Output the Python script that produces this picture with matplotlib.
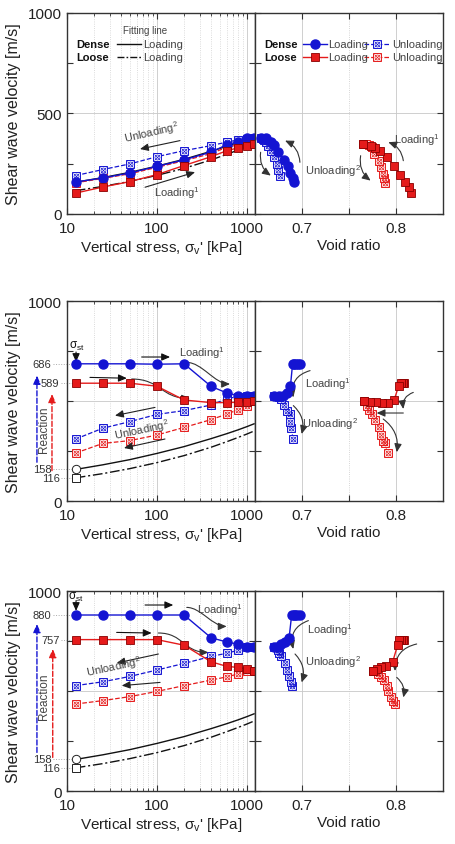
import matplotlib
matplotlib.use('Agg')
import matplotlib.pyplot as plt
from matplotlib.patches import FancyArrowPatch
from matplotlib.path import Path
from matplotlib.ticker import LogLocator, NullFormatter
import matplotlib.transforms as mtransforms

plt.rcParams['font.family'] = ['Liberation Sans', 'DejaVu Sans']
plt.rcParams['mathtext.fontset'] = 'custom'
plt.rcParams['mathtext.rm'] = 'Liberation Sans'
plt.rcParams['mathtext.it'] = 'Liberation Sans:italic'
plt.rcParams['mathtext.bf'] = 'Liberation Sans:bold'
plt.rcParams['mathtext.default'] = 'regular'

BLUE = '#1414d2'
RED = '#e51b1b'
GRAY = '#444444'

# ---------------- data ----------------
stress = [12.5, 25, 50, 100, 200, 400, 600, 800, 1000, 1200]

fit_dense = [158, 181, 207, 238, 272, 312, 337, 356, 372, 386]
fit_loose = [116, 137, 162, 192, 227, 269, 297, 318, 335, 350]

# top panel
A_dense_load_v = [159, 179, 204, 237, 269, 308, 345, 360, 377, 377]
A_dense_load_e = [0.692, 0.690, 0.6877, 0.6853, 0.6806, 0.6747, 0.670, 0.6667, 0.6614, 0.656]
A_dense_unl_v = [191, 221, 249, 285, 315, 340, 358, 368, 373, 377]
A_dense_unl_e = [0.677, 0.675, 0.673, 0.670, 0.667, 0.664, 0.662, 0.660, 0.658, 0.656]
A_loose_load_v = [104, 134, 161, 196, 241, 285, 315, 329, 340, 350]
A_loose_load_e = [0.8158, 0.8134, 0.8095, 0.8046, 0.7976, 0.790, 0.7835, 0.778, 0.773, 0.765]
A_loose_unl_v = [155, 177, 200, 232, 265, 300, 333, 343, 348, 350]
A_loose_unl_e = [0.788, 0.787, 0.786, 0.784, 0.782, 0.777, 0.774, 0.771, 0.768, 0.765]

# middle panel
B_dense_load_v = [686, 686, 686, 684, 686, 573, 540, 527, 527, 527]
B_dense_load_e = [0.698, 0.696, 0.694, 0.692, 0.690, 0.6877, 0.6842, 0.680, 0.6754, 0.670]
B_dense_unl_v = [310, 364, 397, 433, 452, 480, 512, 522, 526, 527]
B_dense_unl_e = [0.6905, 0.6887, 0.6877, 0.687, 0.6842, 0.6814, 0.678, 0.6754, 0.673, 0.670]
B_loose_load_v = [589, 589, 589, 574, 505, 492, 492, 494, 497, 499]
B_loose_load_e = [0.8085, 0.807, 0.805, 0.8028, 0.798, 0.791, 0.785, 0.779, 0.772, 0.766]
B_loose_unl_v = [240, 288, 302, 330, 368, 407, 435, 457, 477, 499]
B_loose_unl_e = [0.791, 0.788, 0.7863, 0.7845, 0.782, 0.778, 0.7747, 0.771, 0.7687, 0.766]

# bottom panel
C_dense_load_v = [880, 880, 880, 880, 880, 766, 745, 734, 722, 721]
C_dense_load_e = [0.6975, 0.695, 0.693, 0.691, 0.689, 0.6863, 0.6824, 0.678, 0.6737, 0.670]
C_dense_unl_v = [527, 546, 573, 605, 638, 673, 689, 704, 718, 721]
C_dense_unl_e = [0.6895, 0.688, 0.6863, 0.6842, 0.6815, 0.678, 0.676, 0.6744, 0.6737, 0.670]
C_loose_load_v = [757, 757, 757, 757, 729, 646, 623, 618, 610, 601]
C_loose_load_e = [0.809, 0.807, 0.805, 0.803, 0.8017, 0.7965, 0.7895, 0.784, 0.780, 0.7755]
C_loose_unl_v = [435, 452, 472, 498, 527, 555, 571, 585, 598, 601]
C_loose_unl_e = [0.799, 0.797, 0.795, 0.792, 0.790, 0.787, 0.784, 0.781, 0.778, 0.7755]

ref_dense_B = [686, 158]
ref_loose_B = [589, 116]
ref_dense_C = [880, 158]
ref_loose_C = [757, 116]

# ---------------- helpers ----------------
def hatched(ax, x, y, color, ls='--', **kw):
    ax.plot(x, y, ls=ls, color=color, lw=0.9, marker='s', ms=6, mfc='white',
            mec=color, mew=0.7, **kw)
    ax.plot(x, y, ls='none', marker='x', ms=4.2, mec=color, mew=0.5, **kw)
    ax.plot(x, y, ls='none', marker='o', ms=3.6, mfc='none', mec=color, mew=0.5, **kw)


def arrow(ax, p0, p1, rad=0.0, color='#222222', ls='-', lw=0.8):
    ax.annotate('', xy=p1, xytext=p0, xycoords='axes fraction',
                textcoords='axes fraction', annotation_clip=False,
                arrowprops=dict(arrowstyle='-|>,head_length=0.5,head_width=0.22',
                                color=color, lw=lw, ls=ls, mutation_scale=10,
                                shrinkA=0, shrinkB=0,
                                connectionstyle='arc3,rad=%g' % rad))


def s_arrow(ax, p0, p1, color='#333333', frac=0.5):
    x0, y0 = p0
    x1, y1 = p1
    xm0 = x0 + (x1 - x0) * frac
    xm1 = x0 + (x1 - x0) * (1 - frac)
    verts = [(x0, y0), (xm0, y0), (xm1, y1), (x1, y1)]
    path = Path(verts, [Path.MOVETO, Path.CURVE4, Path.CURVE4, Path.CURVE4])
    p = FancyArrowPatch(path=path, arrowstyle='-|>,head_length=0.5,head_width=0.22',
                        mutation_scale=10, transform=ax.transAxes, color=color,
                        lw=0.8, clip_on=False)
    ax.add_patch(p)


def txt(ax, x, y, s, size=8, rot=0, color=GRAY, **kw):
    ax.text(x, y, s, transform=ax.transAxes, fontsize=size, rotation=rot,
            color=color, ha=kw.pop('ha', 'center'), va=kw.pop('va', 'center'), **kw)


def style_axis(ax):
    for sp in ax.spines.values():
        sp.set_color('#333333')
        sp.set_linewidth(1.0)
    ax.tick_params(which='both', direction='in', top=True, right=True,
                   labelsize=11, colors='#333333', labelcolor='#222222')
    ax.tick_params(which='major', length=4, width=0.8)
    ax.tick_params(which='minor', length=2, width=0.6)
    ax.tick_params(axis='x', which='major', pad=5)
    ax.tick_params(axis='y', which='major', pad=4)
    ax.set_axisbelow(True)


def setup_left(ax, top):
    ax.set_xscale('log')
    ax.set_xlim(10, 1230)
    ax.set_ylim(0, 1000)
    ax.set_xticks([10, 100, 1000])
    ax.set_xticklabels(['10', '100', '1000'])
    ax.xaxis.set_minor_locator(LogLocator(base=10, subs=range(2, 10)))
    ax.xaxis.set_minor_formatter(NullFormatter())
    ax.set_yticks([0, 250, 500, 750, 1000])
    if top:
        ax.set_yticklabels(['0', '', '500', '', '1000'])
    else:
        ax.set_yticklabels(['0', '', '', '', '1000'])
    ax.grid(which='major', axis='x', color='#c8c8c8', lw=0.6)
    ax.grid(which='minor', axis='x', color='#cfcfcf', lw=0.6, ls=':')
    ax.axhline(500, color='#c8c8c8', lw=0.6, zorder=0)
    style_axis(ax)
    ax.set_ylabel('Shear wave velocity [m/s]', fontsize=11.5, color='#222222')
    ax.yaxis.set_label_coords(-0.245, 0.5)
    ax.set_xlabel("Vertical stress, σ$_v$' [kPa]", fontsize=11, color='#222222')
    ax.xaxis.set_label_coords(0.5, -0.12)


def setup_right(ax):
    ax.set_xlim(0.65, 0.85)
    ax.set_ylim(0, 1000)
    ax.set_xticks([0.7, 0.75, 0.8])
    ax.set_xticklabels(['0.7', '', '0.8'])
    ax.set_yticks([0, 250, 500, 750, 1000])
    ax.set_yticklabels([])
    for xv, ls in [(0.7, '-'), (0.75, ':'), (0.8, '-')]:
        ax.axvline(xv, color='#c8c8c8', lw=0.6, ls=ls, zorder=0)
    ax.axhline(500, color='#c8c8c8', lw=0.6, zorder=0)
    style_axis(ax)
    ax.set_xlabel('Void ratio', fontsize=11, color='#222222')
    ax.xaxis.set_label_coords(0.5, -0.12)


def draw_series(axL, axR, dl, de, du, due, ll, le, lu, lue):
    axL.plot(stress, fit_dense, color='#111111', lw=1.0, zorder=2)
    axL.plot(stress, fit_loose, color='#111111', lw=1.0, ls=(0, (7, 2, 1.5, 2)), zorder=2)
    hatched(axL, stress, du, BLUE, zorder=3, clip_on=False)
    hatched(axL, stress, lu, RED, zorder=3, clip_on=False)
    axL.plot(stress, dl, '-o', color=BLUE, lw=1.0, ms=6.5, mec=BLUE, zorder=4, clip_on=False)
    axL.plot(stress, ll, '-s', color=RED, lw=1.0, ms=6, mec='#8a0000', mew=0.6, zorder=4, clip_on=False)
    hatched(axR, due, du, BLUE, zorder=3)
    hatched(axR, lue, lu, RED, zorder=3)
    axR.plot(de, dl, '-o', color=BLUE, lw=1.0, ms=6.5, mec=BLUE, zorder=4)
    axR.plot(le, ll, '-s', color=RED, lw=1.0, ms=6, mec='#8a0000', mew=0.6, zorder=4)


def ref_labels(ax, dense_vals, loose_vals):
    tr = mtransforms.blended_transform_factory(ax.transAxes, ax.transData)
    for vals, xr in [(dense_vals, -0.082), (loose_vals, -0.04)]:
        for v in vals:
            ax.text(xr, v, str(v), transform=tr, fontsize=8, color='#333333',
                    ha='right', va='center')
            ax.plot([xr + 0.008, 0.03], [v, v], transform=tr, color='#aaaaaa', lw=0.7,
                    ls=':', clip_on=False)
    ax.plot([stress[0]], [fit_dense[0]], 'o', ms=6, mfc='white', mec='#222222', mew=0.7, zorder=5)
    ax.plot([stress[0]], [fit_loose[0]], 's', ms=6, mfc='white', mec='#222222', mew=0.7, zorder=5)


# ---------------- figure ----------------
fig = plt.figure(figsize=(4.55, 8.45), dpi=100)
rows = [(0.7456, 0.2379), (0.4059, 0.2367), (0.0627, 0.2367)]
xL, xR, w = 0.1473, 0.5604, 0.4132
axes = []
for b, h in rows:
    aL = fig.add_axes([xL, b, w, h])
    aR = fig.add_axes([xR, b, w, h])
    axes.append((aL, aR))

# ---- top ----
aL, aR = axes[0]
setup_left(aL, True)
setup_right(aR)
draw_series(aL, aR, A_dense_load_v, A_dense_load_e, A_dense_unl_v, A_dense_unl_e,
            A_loose_load_v, A_loose_load_e, A_loose_unl_v, A_loose_unl_e)
# fitting-line legend
txt(aL, 0.415, 0.915, 'Fitting line', size=7)
txt(aL, 0.05, 0.846, 'Dense', size=8, color='#111111', ha='left', fontweight='bold')
txt(aL, 0.05, 0.781, 'Loose', size=8, color='#111111', ha='left', fontweight='bold')
aL.plot([0.266, 0.394], [0.846, 0.846], transform=aL.transAxes, color='#111111', lw=1.0)
aL.plot([0.266, 0.394], [0.781, 0.781], transform=aL.transAxes, color='#111111', lw=1.0,
        ls=(0, (5, 1.5, 1.2, 1.5)))
txt(aL, 0.404, 0.846, 'Loading', size=8, ha='left')
txt(aL, 0.404, 0.781, 'Loading', size=8, ha='left')
# data legend
txt(aR, 0.05, 0.846, 'Dense', size=8, color='#111111', ha='left', fontweight='bold')
txt(aR, 0.05, 0.781, 'Loose', size=8, color='#111111', ha='left', fontweight='bold')
aR.plot([0.255, 0.385], [0.846, 0.846], transform=aR.transAxes, color=BLUE, lw=1.0)
aR.plot([0.32], [0.846], 'o', transform=aR.transAxes, color=BLUE, ms=6.5)
aR.plot([0.255, 0.385], [0.781, 0.781], transform=aR.transAxes, color=RED, lw=1.0)
aR.plot([0.32], [0.781], 's', transform=aR.transAxes, color=RED, ms=6, mec='#8a0000', mew=0.6)
txt(aR, 0.39, 0.846, 'Loading', size=8, ha='left')
txt(aR, 0.39, 0.781, 'Loading', size=8, ha='left')
hatched(aR, [0.58, 0.65, 0.72], [0.846] * 3, BLUE, transform=aR.transAxes, markevery=[1])
hatched(aR, [0.58, 0.65, 0.72], [0.781] * 3, RED, transform=aR.transAxes, markevery=[1])
txt(aR, 0.73, 0.846, 'Unloading', size=8, ha='left')
txt(aR, 0.73, 0.781, 'Unloading', size=8, ha='left')
# annotations
arrow(aL, (0.601, 0.365), (0.388, 0.323))
txt(aL, 0.452, 0.408, 'Unloading$^2$', rot=13)
arrow(aL, (0.415, 0.133), (0.681, 0.208))
txt(aL, 0.585, 0.109, 'Loading$^1$')
arrow(aR, (0.239, 0.257), (0.160, 0.365), rad=0.3, color='#333333')
arrow(aR, (0.030, 0.307), (0.084, 0.191), rad=0.3, color='#333333')
txt(aR, 0.417, 0.216, 'Unloading$^2$')
txt(aR, 0.860, 0.373, 'Loading$^1$')
arrow(aR, (0.789, 0.265), (0.709, 0.357), rad=0.3, color='#333333')
arrow(aR, (0.562, 0.290), (0.615, 0.166), rad=0.3, color='#333333')

# ---- middle ----
aL, aR = axes[1]
setup_left(aL, False)
setup_right(aR)
draw_series(aL, aR, B_dense_load_v, B_dense_load_e, B_dense_unl_v, B_dense_unl_e,
            B_loose_load_v, B_loose_load_e, B_loose_unl_v, B_loose_unl_e)
ref_labels(aL, ref_dense_B, ref_loose_B)
txt(aL, 0.052, 0.78, 'σ$_{st}$', size=8.5, color='#111111')
arrow(aL, (0.048, 0.745), (0.048, 0.695), color='#111111')
arrow(aL, (0.397, 0.72), (0.548, 0.72), color='#111111')
txt(aL, 0.716, 0.743, 'Loading$^1$')
s_arrow(aL, (0.637, 0.693), (0.867, 0.585), frac=0.35)
arrow(aL, (0.122, 0.618), (0.318, 0.614), color='#111111')
s_arrow(aL, (0.344, 0.61), (0.654, 0.513))
arrow(aL, (0.468, 0.468), (0.255, 0.427))
txt(aL, 0.40, 0.356, 'Unloading$^2$', rot=12)
arrow(aL, (0.521, 0.31), (0.303, 0.265))
arrow(aL, (-0.160, 0.194), (-0.160, 0.627), color=BLUE, ls='--', lw=1.0)
arrow(aL, (-0.080, 0.152), (-0.080, 0.535), color=RED, ls='--', lw=1.0)
txt(aL, -0.122, 0.36, 'Reaction', size=8.5, rot=90)
arrow(aR, (0.293, 0.652), (0.204, 0.518), rad=0.45, color='#333333')
txt(aR, 0.39, 0.59, 'Loading$^1$')
arrow(aR, (0.204, 0.477), (0.248, 0.335), rad=-0.3, color='#333333')
txt(aR, 0.40, 0.39, 'Unloading$^2$')
arrow(aR, (0.842, 0.543), (0.789, 0.46), rad=0.4, color='#333333')
arrow(aR, (0.789, 0.44), (0.647, 0.44), color='#333333')
arrow(aR, (0.682, 0.41), (0.754, 0.244), rad=-0.3, color='#333333')

# ---- bottom ----
aL, aR = axes[2]
setup_left(aL, False)
setup_right(aR)
draw_series(aL, aR, C_dense_load_v, C_dense_load_e, C_dense_unl_v, C_dense_unl_e,
            C_loose_load_v, C_loose_load_e, C_loose_unl_v, C_loose_unl_e)
ref_labels(aL, ref_dense_C, ref_loose_C)
txt(aL, 0.045, 0.975, 'σ$_{st}$', size=8.5, color='#111111')
arrow(aL, (0.048, 0.952), (0.048, 0.90), color='#111111')
arrow(aL, (0.415, 0.93), (0.565, 0.93), color='#111111')
txt(aL, 0.814, 0.91, 'Loading$^1$')
s_arrow(aL, (0.637, 0.918), (0.849, 0.823), frac=0.35)
arrow(aL, (0.264, 0.793), (0.45, 0.79), color='#111111')
s_arrow(aL, (0.486, 0.79), (0.752, 0.693))
arrow(aL, (0.486, 0.685), (0.264, 0.64))
txt(aL, 0.25, 0.625, 'Unloading$^2$', rot=12)
arrow(aL, (0.495, 0.543), (0.291, 0.527))
arrow(aL, (-0.160, 0.193), (-0.160, 0.835), color=BLUE, ls='--', lw=1.0)
arrow(aL, (-0.076, 0.168), (-0.076, 0.71), color=RED, ls='--', lw=1.0)
txt(aL, -0.122, 0.477, 'Reaction', size=8.5, rot=90)
arrow(aR, (0.284, 0.852), (0.204, 0.71), rad=0.45, color='#333333')
txt(aR, 0.399, 0.81, 'Loading$^1$')
arrow(aR, (0.213, 0.685), (0.248, 0.543), rad=-0.3, color='#333333')
txt(aR, 0.417, 0.652, 'Unloading$^2$')
arrow(aR, (0.86, 0.735), (0.745, 0.60), rad=0.4, color='#333333')
arrow(aR, (0.754, 0.568), (0.789, 0.468), rad=-0.3, color='#333333')

fig.savefig('out.png', dpi=100)
